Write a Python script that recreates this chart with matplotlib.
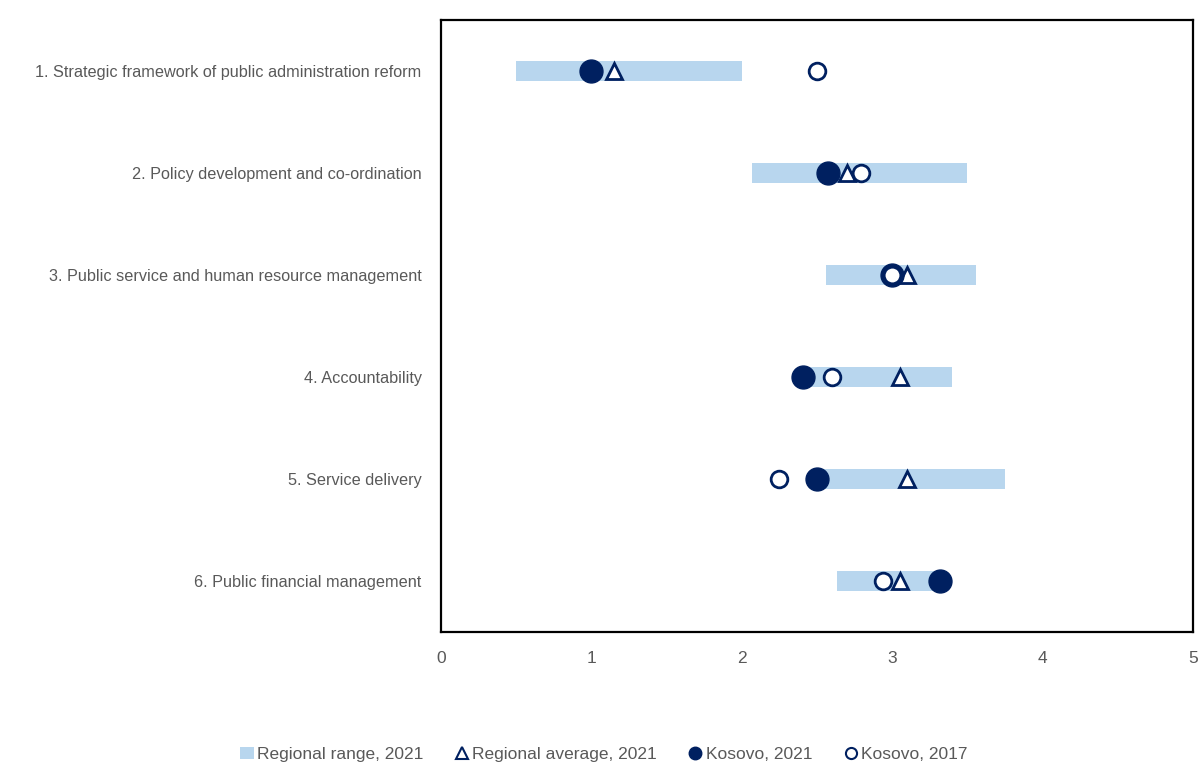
import matplotlib
matplotlib.use("Agg")
import matplotlib.pyplot as plt
from matplotlib.lines import Line2D
from matplotlib.patches import Patch
from matplotlib import font_manager

names = {f.name for f in font_manager.fontManager.ttflist}
fam = 'Liberation Sans Narrow' if 'Liberation Sans Narrow' in names else 'Liberation Sans'
plt.rcParams['font.family'] = [fam, 'DejaVu Sans']

categories = [
    "1. Strategic framework of public administration reform",
    "2. Policy development and co-ordination",
    "3. Public service and human resource management",
    "4. Accountability",
    "5. Service delivery",
    "6. Public financial management",
]
range_min = [0.50, 2.07, 2.56, 2.41, 2.50, 2.63]
range_max = [2.00, 3.50, 3.56, 3.40, 3.75, 3.32]
regional_avg = [1.15, 2.70, 3.10, 3.05, 3.10, 3.05]
kosovo_2021 = [1.00, 2.57, 3.00, 2.41, 2.50, 3.32]
kosovo_2017 = [2.50, 2.79, 3.00, 2.60, 2.25, 2.94]
xticks = [0, 1, 2, 3, 4, 5]

navy = '#002060'
light = '#B8D6EE'

fig = plt.figure(figsize=(11.98, 7.67), dpi=100)
ax = fig.add_axes([441/1198, 1-632/767, (1193-441)/1198, (632-20)/767])

y = list(range(len(categories)))
widths = [b - a for a, b in zip(range_min, range_max)]
ax.barh(y, widths, left=range_min, height=0.2, color=light, zorder=1)
ax.plot(regional_avg, y, '^', ms=12, mfc='white', mec=navy, mew=2, ls='none', zorder=2)
ax.plot(kosovo_2021, y, 'o', ms=16.5, mfc=navy, mec=navy, ls='none', zorder=3)
ax.plot(kosovo_2017, y, 'o', ms=12, mfc='white', mec=navy, mew=2, ls='none', zorder=4)

ax.set_xlim(0, 5)
ax.set_ylim(len(categories) - 0.5, -0.5)
ax.set_xticks(xticks)
ax.set_yticks(y)
ax.set_yticklabels(categories)
ax.tick_params(axis='both', length=0, colors='#595959')
ax.tick_params(axis='y', labelsize=11.7, pad=14)
ax.tick_params(axis='x', labelsize=12.5, pad=14)
for s in ax.spines.values():
    s.set_linewidth(1.6)
    s.set_color('black')

handles = [
    Patch(facecolor=light, edgecolor='none'),
    Line2D([], [], marker='^', ls='none', ms=8, mfc='white', mec=navy, mew=1.5),
    Line2D([], [], marker='o', ls='none', ms=9, mfc=navy, mec=navy),
    Line2D([], [], marker='o', ls='none', ms=8, mfc='white', mec=navy, mew=1.5),
]
labels = ["Regional range, 2021", "Regional average, 2021", "Kosovo, 2021", "Kosovo, 2017"]
fig.legend(handles, labels, loc='center', bbox_to_anchor=(0.504, 0.016), ncol=4,
           frameon=False, fontsize=12.5, handlelength=0.8, handletextpad=0.2,
           columnspacing=1.8, labelcolor='#595959', borderaxespad=0, borderpad=0)

fig.savefig('out.png', dpi=100)
